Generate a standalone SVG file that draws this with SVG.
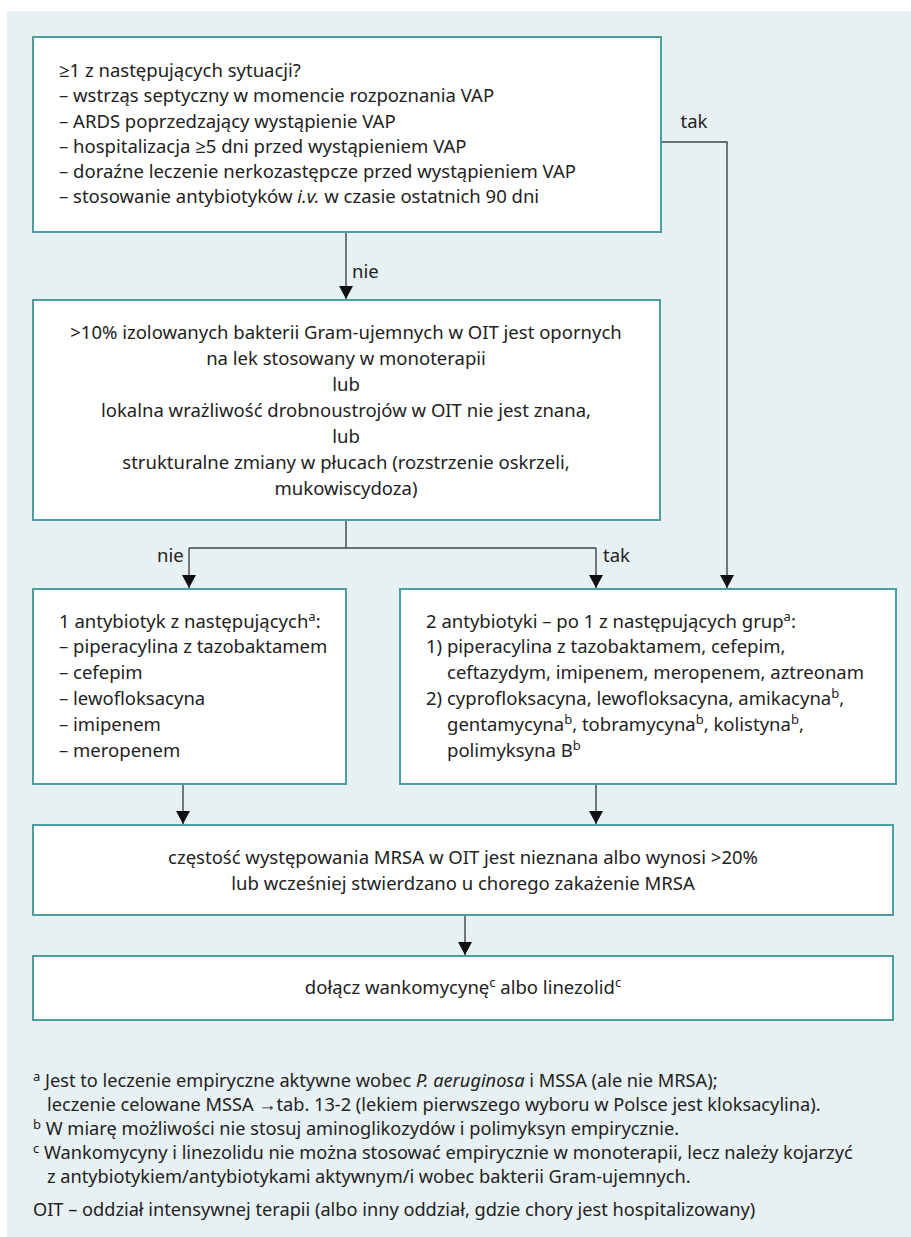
<svg xmlns="http://www.w3.org/2000/svg" width="911" height="1237" viewBox="0 0 911 1237">
  <style>
    .box { fill: #ffffff; stroke: #4c9ea0; stroke-width: 2; }
    .txt { font-family: "Noto Sans", "Open Sans", sans-serif; font-size: 18.5px; fill: #222222; }
    .mid { text-anchor: middle; }
    .foot { font-family: "Noto Sans", "Open Sans", sans-serif; font-size: 18.2px; fill: #222222; }
    .wire { fill: none; stroke: #444444; stroke-width: 1.4; }
    .arrow { fill: none; stroke: #444444; stroke-width: 1.4; marker-end: url(#head); }
    .it { font-style: italic; }
  </style>
  <defs>
    <marker id="head" markerUnits="userSpaceOnUse" markerWidth="14" markerHeight="14" refX="13" refY="7" orient="auto">
      <path d="M0,0 L13,7 L0,14 Z" fill="#111111"/>
    </marker>
  </defs>

  <!-- background panel -->
  <rect x="7" y="11" width="904" height="1226" fill="#e7f0f2"/>

  <!-- connectors -->
  <g id="connectors">
    <path class="arrow" d="M346,232 V299"/>
    <path class="arrow" d="M661,142 H727 V588"/>
    <path class="wire" d="M346,520 V548 H596"/>
    <path class="arrow" d="M189,548 V588"/>
    <path class="wire" d="M189,548 H346"/>
    <path class="arrow" d="M596,548 V588"/>
    <path class="arrow" d="M183,784 V824"/>
    <path class="arrow" d="M596,784 V824"/>
    <path class="arrow" d="M465,915 V955"/>
    <text class="txt" x="694" y="128" text-anchor="middle">tak</text>
    <text class="txt" x="352" y="278">nie</text>
    <text class="txt" x="157" y="562">nie</text>
    <text class="txt" x="603" y="562">tak</text>
  </g>

  <g id="n-risk">
    <rect class="box" x="33" y="37" width="628" height="195"/>
    <text class="txt" x="59" y="77">≥1 z następujących sytuacji?</text>
    <text class="txt" x="59" y="102">– wstrząs septyczny w momencie rozpoznania VAP</text>
    <text class="txt" x="59" y="127.5">– ARDS poprzedzający wystąpienie VAP</text>
    <text class="txt" x="59" y="153">– hospitalizacja ≥5 dni przed wystąpieniem VAP</text>
    <text class="txt" x="59" y="178">– doraźne leczenie nerkozastępcze przed wystąpieniem VAP</text>
    <text class="txt" x="59" y="203">– stosowanie antybiotyków <tspan class="it">i.v.</tspan> w czasie ostatnich 90 dni</text>
  </g>

  <g id="n-resistance">
    <rect class="box" x="33" y="300" width="627" height="220"/>
    <text class="txt mid" x="346" y="339">&gt;10% izolowanych bakterii Gram-ujemnych w OIT jest opornych</text>
    <text class="txt mid" x="346" y="365">na lek stosowany w monoterapii</text>
    <text class="txt mid" x="346" y="391">lub</text>
    <text class="txt mid" x="346" y="417">lokalna wrażliwość drobnoustrojów w OIT nie jest znana,</text>
    <text class="txt mid" x="346" y="443">lub</text>
    <text class="txt mid" x="346" y="469">strukturalne zmiany w płucach (rozstrzenie oskrzeli,</text>
    <text class="txt mid" x="346" y="495">mukowiscydoza)</text>
  </g>

  <g id="n-mono">
    <rect class="box" x="33" y="589" width="313" height="195"/>
    <text class="txt" x="59" y="628">1 antybiotyk z następujących<tspan dy="-7" font-size="13">a</tspan><tspan dy="7">:</tspan></text>
    <text class="txt" x="59" y="653">– piperacylina z tazobaktamem</text>
    <text class="txt" x="59" y="679">– cefepim</text>
    <text class="txt" x="59" y="705">– lewofloksacyna</text>
    <text class="txt" x="59" y="731">– imipenem</text>
    <text class="txt" x="59" y="757">– meropenem</text>
  </g>

  <g id="n-combo">
    <rect class="box" x="400" y="589" width="496" height="195"/>
    <text class="txt" x="426" y="628">2 antybiotyki – po 1 z następujących grup<tspan dy="-7" font-size="13">a</tspan><tspan dy="7">:</tspan></text>
    <text class="txt" x="426" y="653">1) piperacylina z tazobaktamem, cefepim,</text>
    <text class="txt" x="447" y="679">ceftazydym, imipenem, meropenem, aztreonam</text>
    <text class="txt" x="426" y="705">2) cyprofloksacyna, lewofloksacyna, amikacyna<tspan dy="-7" font-size="13">b</tspan><tspan dy="7">,</tspan></text>
    <text class="txt" x="447" y="731">gentamycyna<tspan dy="-7" font-size="13">b</tspan><tspan dy="7">, tobramycyna</tspan><tspan dy="-7" font-size="13">b</tspan><tspan dy="7">, kolistyna</tspan><tspan dy="-7" font-size="13">b</tspan><tspan dy="7">,</tspan></text>
    <text class="txt" x="447" y="757">polimyksyna B<tspan dy="-7" font-size="13">b</tspan></text>
  </g>

  <g id="n-mrsa">
    <rect class="box" x="33" y="825" width="860" height="90"/>
    <text class="txt mid" x="463" y="864">częstość występowania MRSA w OIT jest nieznana albo wynosi &gt;20%</text>
    <text class="txt mid" x="463" y="890">lub wcześniej stwierdzano u chorego zakażenie MRSA</text>
  </g>

  <g id="n-add">
    <rect class="box" x="33" y="956" width="860" height="64"/>
    <text class="txt mid" x="463" y="994">dołącz wankomycynę<tspan dy="-7" font-size="13">c</tspan><tspan dy="7"> albo linezolid</tspan><tspan dy="-7" font-size="13">c</tspan></text>
  </g>

  <!-- footnotes -->
  <g id="footnotes">
    <text class="foot" x="33" y="1087"><tspan font-size="13" dy="-6">a</tspan><tspan dy="6"> Jest to leczenie empiryczne aktywne wobec </tspan><tspan class="it">P. aeruginosa</tspan> i MSSA (ale nie MRSA);</text>
    <text class="foot" x="47" y="1111">leczenie celowane MSSA →tab. 13-2 (lekiem pierwszego wyboru w Polsce jest kloksacylina).</text>
    <text class="foot" x="33" y="1135"><tspan font-size="13" dy="-6">b</tspan><tspan dy="6"> W miarę możliwości nie stosuj aminoglikozydów i polimyksyn empirycznie.</tspan></text>
    <text class="foot" x="33" y="1159"><tspan font-size="13" dy="-6">c</tspan><tspan dy="6"> Wankomycyny i linezolidu nie można stosować empirycznie w monoterapii, lecz należy kojarzyć</tspan></text>
    <text class="foot" x="47" y="1183">z antybiotykiem/antybiotykami aktywnym/i wobec bakterii Gram-ujemnych.</text>
    <text class="foot" x="33" y="1216">OIT – oddział intensywnej terapii (albo inny oddział, gdzie chory jest hospitalizowany)</text>
  </g>
</svg>
